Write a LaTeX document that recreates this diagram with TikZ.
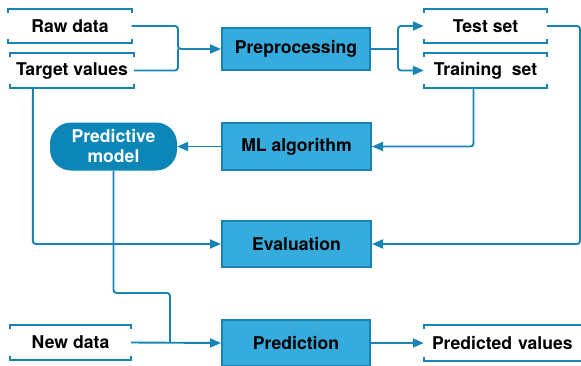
\documentclass[tikz,border=0pt]{standalone}
\usepackage{fontspec}
\setmainfont{TeX Gyre Heros}
\usetikzlibrary{arrows.meta,calc}
\definecolor{boxfill}{RGB}{54,172,222}
\definecolor{boxdraw}{RGB}{24,130,180}
\definecolor{linec}{RGB}{24,132,181}
\definecolor{pmfill}{RGB}{12,133,183}
\tikzset{
  lbl/.style={font=\fontsize{17.6}{19}\selectfont\bfseries, text=black, inner sep=0pt},
  procbox/.style={lbl, draw=boxdraw, fill=boxfill, line width=2pt},
  brbox/.style={lbl},
  pmbox/.style={font=\fontsize{17.6}{20}\selectfont\bfseries, text=white, fill=pmfill, rounded corners=21pt, inner sep=0pt, align=center},
  conn/.style={draw=linec, line width=1.9pt, rounded corners=3pt},
  arr/.style={conn, -{Triangle[length=11pt,width=9pt]}},
  brk/.style={draw=linec, line width=1.9pt}
}
\newcommand{\brackets}[1]{%
  \draw[brk] ([yshift=-4.5pt]#1.north west) -- (#1.north west) -- (#1.north east) -- ([yshift=-4.5pt]#1.north east);
  \draw[brk] ([yshift=4.5pt]#1.south west) -- (#1.south west) -- (#1.south east) -- ([yshift=4.5pt]#1.south east);}
\begin{document}
\begin{tikzpicture}[x=1pt,y=-1pt]
\useasboundingbox (0,0) rectangle (581,365);
% bracket boxes
\node[brbox, minimum width=123pt, minimum height=34pt] (raw) at (70,26) {Raw data};
\node[brbox, minimum width=124pt, minimum height=35pt] (target) at (72,70.5) {Target values};
\node[brbox, minimum width=123pt, minimum height=34pt] (test) at (485.5,26) {Test set};
\node[brbox, minimum width=123pt, minimum height=35pt] (train) at (485.5,70.5) {Training\ \ set};
\node[brbox, minimum width=121pt, minimum height=35pt] (new) at (70.5,342.5) {New data};
\node[brbox, minimum width=162pt, minimum height=36pt, text width=162pt, align=left] (pv) at (505,343) {\hspace*{8pt}Predicted values};
\foreach \n in {raw,target,test,train,new,pv}{\brackets{\n}}
% process boxes
\node[procbox, minimum width=148pt, minimum height=42pt] (pre) at (296,49) {Preprocessing};
\node[procbox, minimum width=149pt, minimum height=47pt] (ml) at (296.5,146.5) {ML algorithm};
\node[procbox, minimum width=149pt, minimum height=46pt] (eval) at (296.5,244) {Evaluation};
\node[procbox, minimum width=148pt, minimum height=46pt] (pred) at (296,343) {Prediction};
\node[pmbox, minimum width=127pt, minimum height=48pt] (pm) at (113.5,146.5) {Predictive\\model};
% coordinates
\coordinate (j1) at (178,49);
\coordinate (j2) at (398,49);
\coordinate (c3) at (580,244);
\coordinate (c7) at (170,293);
% connectors
\draw[arr] (raw.east) -| (j1) -- (pre.west);
\draw[conn] (target.east) -| (j1);
\draw[conn] (pre.east) -- (j2);
\draw[arr] (j2) |- (test.west);
\draw[arr] (j2) |- (train.west);
\draw[arr] (test.east) -| (c3) -- (eval.east);
\draw[arr] ([xshift=-12pt]train.south) |- (ml.east);
\draw[arr] (ml.west) -- (pm.east);
\draw[arr] ([xshift=23pt]target.south west) |- (eval.west);
\draw[conn] (pm.south) |- (c7) -- (c7 |- new.east);
\draw[arr] (new.east) -- (pred.west);
\draw[arr] (pred.east) -- (pv.west);
\end{tikzpicture}
\end{document}
